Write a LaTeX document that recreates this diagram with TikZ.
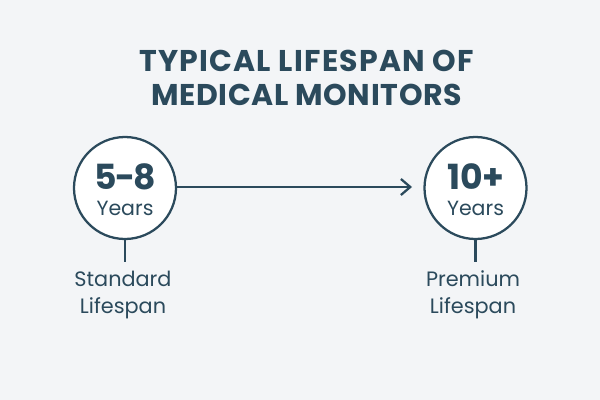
\documentclass[tikz,border=0pt]{standalone}
\usepackage{fontspec}
\setmainfont{Poppins}
\newfontfamily\titlefont[LetterSpace=4]{Poppins}
\newfontfamily\titlefontb[LetterSpace=2.1]{Poppins}
\usetikzlibrary{arrows.meta}
\definecolor{bgc}{HTML}{F3F5F7}
\definecolor{ink}{HTML}{2B4A5C}
\tikzset{px/.style={x=0.75pt,y=-0.75pt},
circ/.style={circle,draw=ink,line width=1.7pt,fill=white,minimum size=76.5pt,inner sep=0pt},
lab/.style={text=ink,font=\fontsize{15.6}{20.2}\selectfont,align=center},
conn/.style={draw=ink,line width=1.7pt},
bigv/.style={text=ink,font=\fontsize{26}{30}\selectfont\bfseries},
yrs/.style={text=ink,font=\fontsize{15.4}{18}\selectfont}}
\begin{document}
\begin{tikzpicture}[px]
\useasboundingbox (0,0) rectangle (600,400);
\fill[bgc] (0,0) rectangle (600,400);
\node[text=ink,font=\fontsize{22.5}{24}\selectfont\bfseries,align=center] (title) at (306.5,77.5) {{\titlefont\bfseries TYPICAL LIFESPAN OF}\\[1.6pt]{\titlefontb\bfseries MEDICAL MONITORS}};
\node[circ] (a) at (125,188) {};
\node[circ] (b) at (475.5,188) {};
\node[bigv] (av) at (125,177) {5\kern-1.5pt-\kern-1.5pt8};
\node[yrs] (ay) at (125,208) {Years};
\node[bigv] (bv) at (476,177) {10+};
\node[yrs] (by) at (475.5,208) {Years};
\node[lab] (al) at (123,295) {Standard\\Lifespan};
\node[lab] (bl) at (473,295) {Premium\\Lifespan};
\coordinate (tip) at (412,187);
\coordinate (as) at (125,262);
\coordinate (bs) at (475.5,262);
\draw[conn,-{Straight Barb[length=7pt,width=12pt,line width=1.7pt]}] (a.east |- tip) -- (tip);
\draw[conn] (a.south) -- (as);
\draw[conn] (b.south) -- (bs);
\end{tikzpicture}
\end{document}
